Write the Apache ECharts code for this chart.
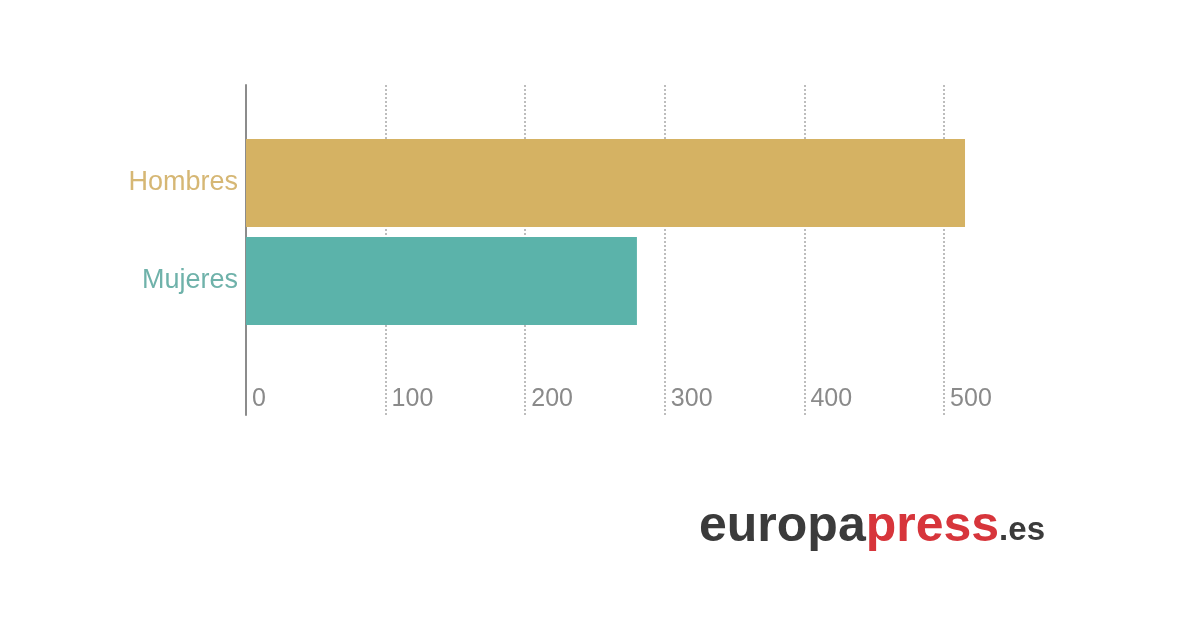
<!DOCTYPE html>
<html>
<head>
<meta charset="utf-8">
<title>Hombres / Mujeres</title>
<script src="https://cdn.jsdelivr.net/npm/echarts@6/dist/echarts.min.js"></script>
<style>
  html, body { margin: 0; padding: 0; background: #fff; }
  #chart { width: 1200px; height: 630px; }
</style>
</head>
<body>
<div id="chart"></div>
<script>
// data
const categories = ['Hombres', 'Mujeres'];
const values = [515, 280];
const barColors = ['#d5b263', '#5bb3aa'];
const labelColors = ['#d6b774', '#6fb2aa'];
const tickMax = 520;

const chart = echarts.init(document.getElementById('chart'));

const option = {
    backgroundColor: '#ffffff',
    animation: false,
    // logo
    title: {
        left: 694,
        top: 494,
        text: '{a|europa}{b|press}{c|.es}',
        textStyle: {
            rich: {
                a: { fontFamily: 'Liberation Sans', fontWeight: 'bold', fontSize: 50, lineHeight: 56, color: '#3b3b3b' },
                b: { fontFamily: 'Liberation Sans', fontWeight: 'bold', fontSize: 50, lineHeight: 56, color: '#d7353b' },
                c: { fontFamily: 'Liberation Sans', fontWeight: 'bold', fontSize: 33, color: '#3b3b3b', verticalAlign: 'bottom', padding: [0, 0, 8, 0] }
            }
        }
    },
    grid: [
        // bars
        { left: 246, width: 726, top: 134, height: 196 },
        // frame with gridlines and tick labels
        { left: 246, width: 726, top: 85, height: 330 }
    ],
    xAxis: [
        { gridIndex: 0, type: 'value', min: 0, max: tickMax, show: false },
        {
            gridIndex: 1,
            type: 'value',
            min: 0,
            max: tickMax,
            interval: 100,
            axisLine: { show: false },
            axisTick: { show: false },
            splitLine: {
                show: true,
                showMinLine: false,
                showMaxLine: false,
                lineStyle: { color: '#a8a8a8', type: [2, 2], width: 1.5 }
            },
            axisLabel: {
                inside: true,
                showMaxLabel: false,
                align: 'left',
                margin: 3,
                padding: [0, 0, 0, 6],
                color: '#8a8a8a',
                fontFamily: 'Liberation Sans',
                fontSize: 25,
                formatter: v => (v % 100 === 0 ? String(v) : '')
            }
        }
    ],
    yAxis: [
        {
            gridIndex: 0,
            type: 'category',
            inverse: true,
            data: categories,
            axisLine: { show: false },
            axisTick: { show: false },
            axisLabel: {
                margin: 8,
                fontFamily: 'Liberation Sans',
                fontSize: 27,
                padding: [8, 0, 0, 0],
                color: (value, index) => labelColors[index]
            }
        },
        {
            gridIndex: 1,
            type: 'value',
            min: 0,
            max: 1,
            axisLine: { show: true, lineStyle: { color: '#8c8c8c', width: 2 } },
            axisTick: { show: false },
            axisLabel: { show: false },
            splitLine: { show: false }
        }
    ],
    series: [
        {
            type: 'bar',
            xAxisIndex: 0,
            yAxisIndex: 0,
            barWidth: 88,
            data: values.map((v, i) => ({ value: v, itemStyle: { color: barColors[i] } }))
        }
    ]
};

chart.setOption(option);
</script>
</body>
</html>
